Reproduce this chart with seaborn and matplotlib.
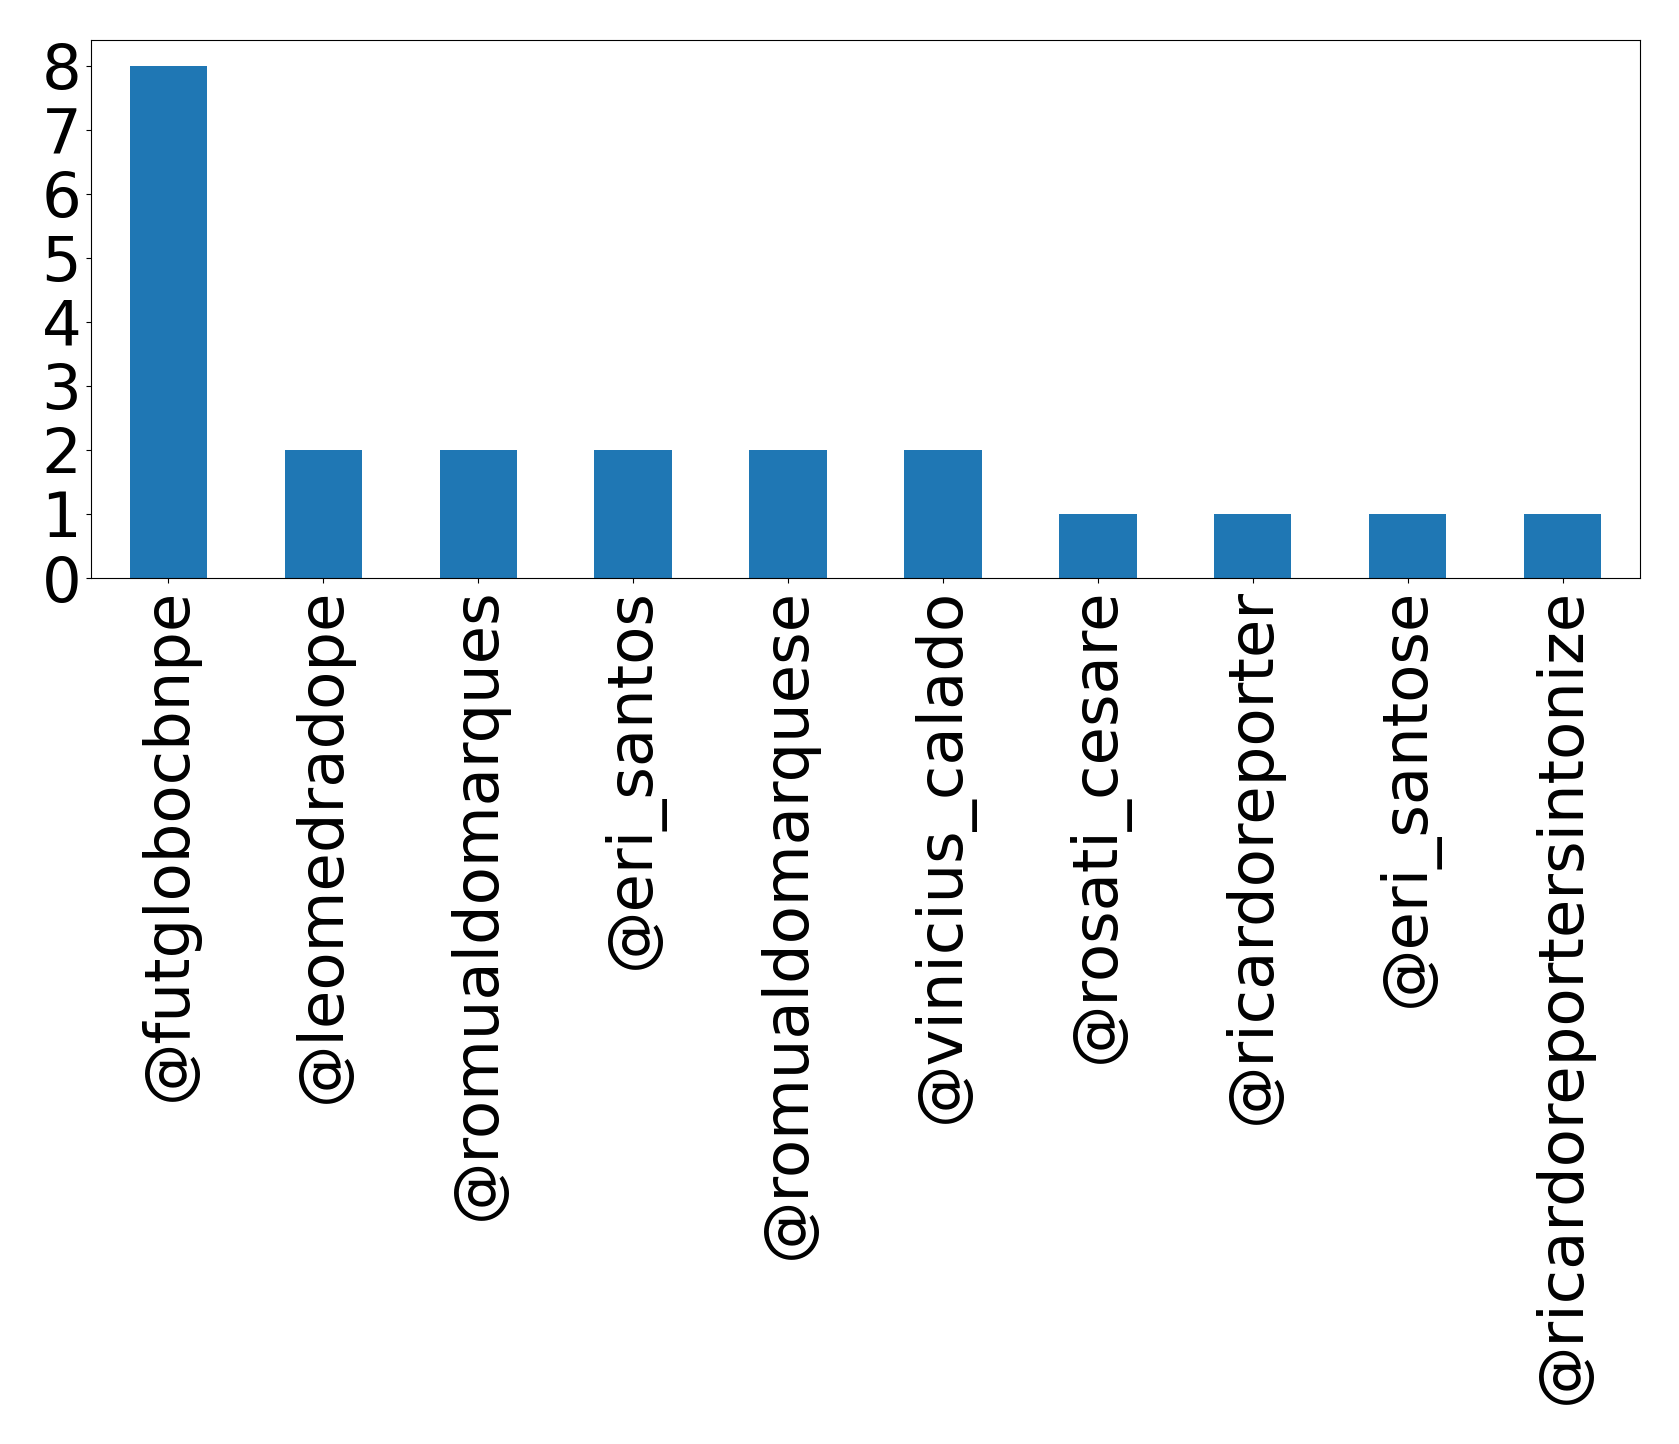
import matplotlib
matplotlib.use("Agg")
import matplotlib.pyplot as plt
import seaborn as sns
import pandas as pd

users = ["@futglobocbnpe", "@leomedradope", "@romualdomarques", "@eri_santos",
         "@romualdomarquese", "@vinicius_calado", "@rosati_cesare",
         "@ricardoreporter", "@eri_santose", "@ricardoreportersintonize"]
counts = [8, 2, 2, 2, 2, 2, 1, 1, 1, 1]
yticks = [0, 1, 2, 3, 4, 5, 6, 7, 8]

df = pd.DataFrame({"user": users, "count": counts})

fig = plt.figure(figsize=(16.79, 14.44), dpi=100)
ax = fig.add_axes([91/1679, 1 - 578/1444, (1640 - 91)/1679, (578 - 40)/1444])
sns.barplot(data=df, x="user", y="count", color="#1f77b4", saturation=1,
            width=0.5, ax=ax, order=users)
ax.set_xlim(-0.5, len(users) - 0.5)
ax.set_ylim(0, 8.4)
ax.set_yticks(yticks)
ax.set_yticklabels([str(t) for t in yticks])
ax.set_xlabel("")
ax.set_ylabel("")
ax.tick_params(axis="both", labelsize=45)
ax.tick_params(axis="x", labelrotation=90)
for s in ax.spines.values():
    s.set_visible(True)
    s.set_color("black")
fig.savefig("out.png", dpi=100)
